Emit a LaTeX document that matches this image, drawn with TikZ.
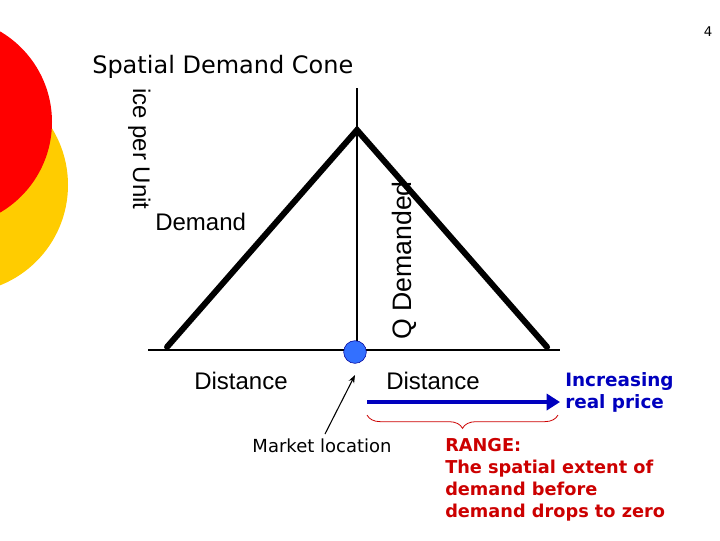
\documentclass[tikz,border=0pt]{standalone}
\usepackage{fontspec}
\setmainfont{DejaVu Sans}
\newfontfamily\arial{Liberation Sans}
\usetikzlibrary{arrows.meta,decorations.pathreplacing}
\definecolor{cred}{RGB}{255,0,0}
\definecolor{cyel}{RGB}{255,204,0}
\definecolor{cblue}{RGB}{0,0,190}
\definecolor{ctxt}{RGB}{204,0,0}
\tikzset{lab/.style={font=\arial\fontsize{18}{20}\selectfont,inner sep=0},
 cone/.style={line width=4.5pt,line cap=round}}
\begin{document}
\begin{tikzpicture}[x=1pt,y=-1pt,scale=0.75]
\useasboundingbox (0,0) rectangle (720,540);
\begin{scope}
\clip (0,0) rectangle (720,540);
\fill[cyel] (-40,185) circle (108);
\fill[cred] (-53,122) circle (105);
\end{scope}
\node[font=\fontsize{10}{11}\selectfont] (pg) at (708,32) {4};
\node[anchor=west,font=\fontsize{18}{20}\selectfont,inner sep=0] (title) at (92,67) {Spatial Demand Cone};
\draw[line width=1pt] (357,88) coordinate (vt) -- (357,350) coordinate (vb);
\draw[line width=1pt] (148,350) coordinate (hl) -- (560,350) coordinate (hr);
\node[lab,rotate=-90,anchor=south west] (pu) at (128,88) {ice per Unit};
\node[lab,anchor=west] (dem) at (155,222) {Demand};
\node[lab,rotate=90,anchor=west,font=\arial\fontsize{20}{22}\selectfont] (qd) at (404,340) {Q Demanded};
\coordinate (l) at (167,347); \coordinate (t) at (357,130); \coordinate (r) at (547,347);
\draw[cone] (l) -- (t) -- (r);
\node[circle,fill=blue!70!cyan!80!white,draw=blue!60!black,minimum size=17pt,inner sep=0] (mk) at (355,352) {};
\node[lab] (d1) at (241,381) {Distance};
\node[lab] (d2) at (433,381) {Distance};
\node[font=\fontsize{13.5}{15}\selectfont] (ml) at (322,446) {Market location};
\draw[-{Stealth[length=6pt]},line width=0.8pt] (325,434) coordinate (ms) -- (355,375) coordinate (me);
\coordinate (ba) at (367,402); \coordinate (bb) at (560,402);
\draw[cblue,line width=3.5pt,-{Triangle[length=10pt,width=12pt]}] (ba) -- (bb);
\node[anchor=north west,align=left,text=cblue,font=\bfseries\fontsize{13.8}{16.5}\selectfont,inner sep=0] (inc) at (565,372) {Increasing\\real price};
\draw[ctxt,line width=0.6pt,decorate,decoration={brace,mirror,amplitude=10pt}] (367,415) coordinate (b1) -- (558,415) coordinate (b2);
\node[anchor=north west,align=left,text=ctxt,font=\bfseries\fontsize{13.3}{16.5}\selectfont,inner sep=0] (rng) at (445,438) {RANGE:\\The spatial extent of\\demand before\\demand drops to zero};
\end{tikzpicture}
\end{document}
